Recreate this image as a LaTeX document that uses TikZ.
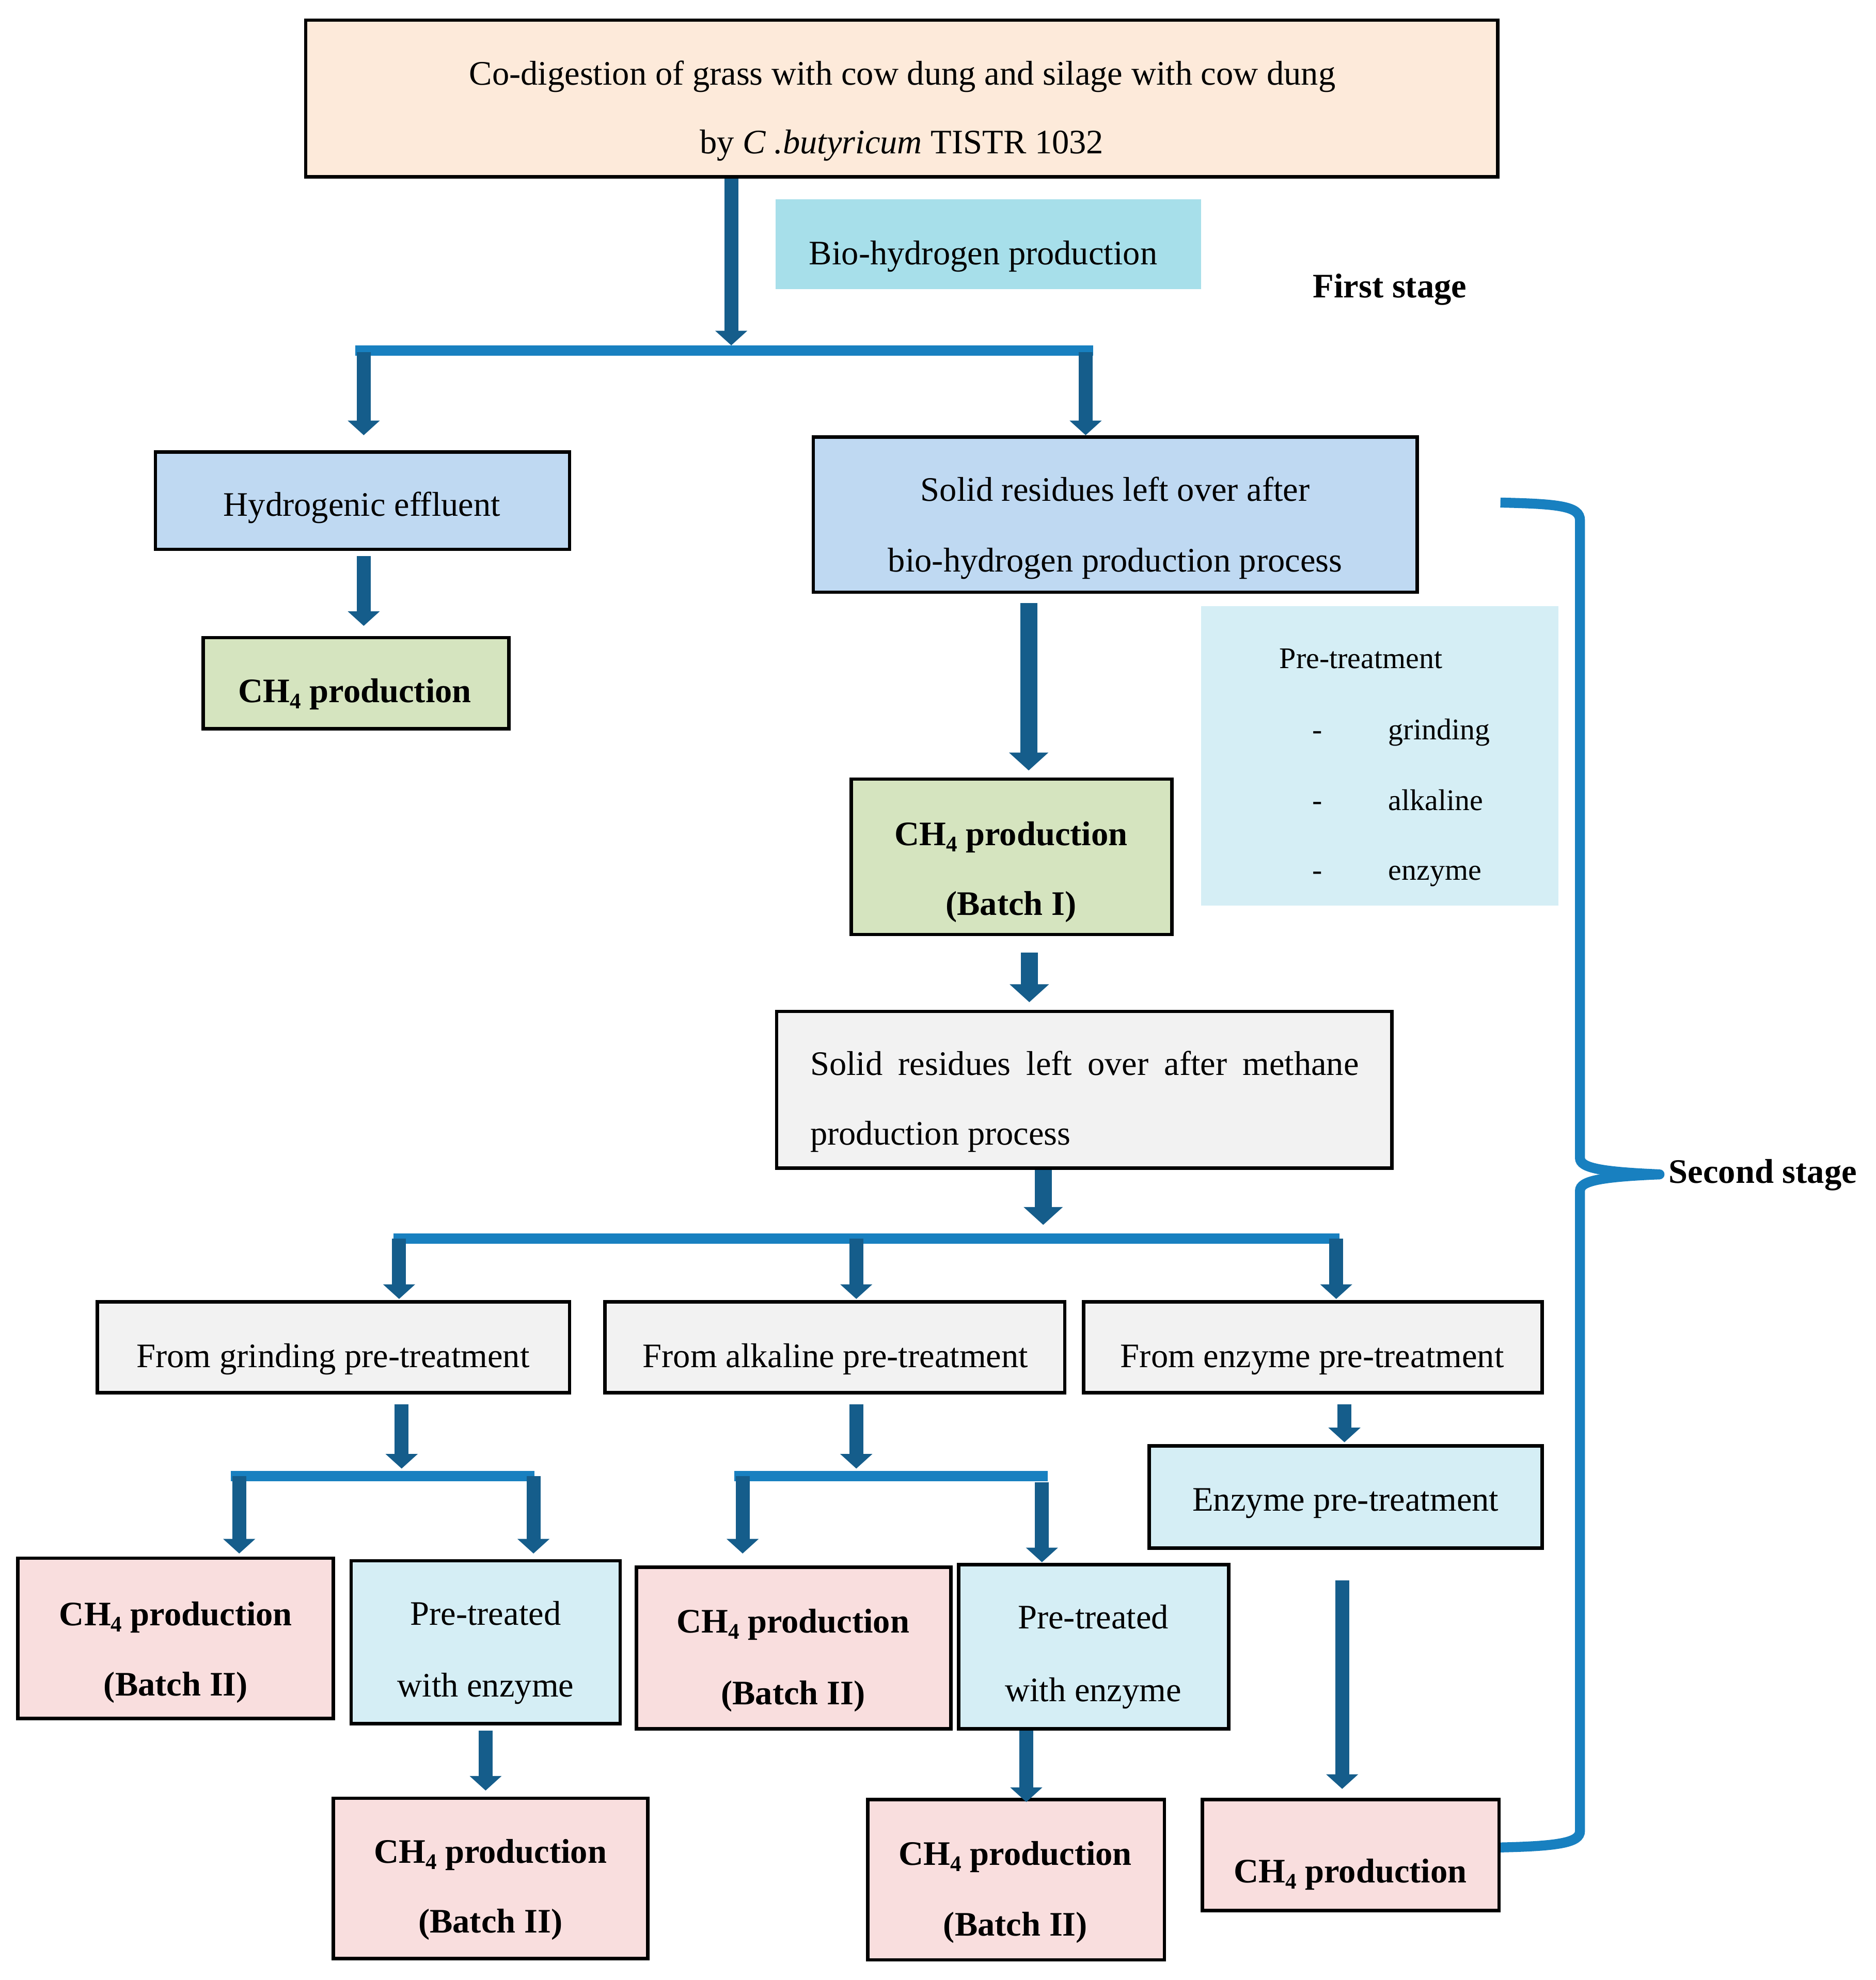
\documentclass[tikz,border=0pt]{standalone}
\usepackage{fontspec}
\setmainfont{Liberation Serif}
\usetikzlibrary{arrows.meta}
\definecolor{peach}{HTML}{FDEADA}
\definecolor{bioc}{HTML}{A7DFEA}
\definecolor{lblue}{HTML}{BFD9F2}
\definecolor{lgreen}{HTML}{D5E4BF}
\definecolor{pale}{HTML}{D5EEF5}
\definecolor{lgray}{HTML}{F2F2F2}
\definecolor{lpink}{HTML}{F9DEDE}
\definecolor{arrowblue}{HTML}{155D8B}
\definecolor{barblue}{HTML}{1880C0}
\tikzset{
  boxst/.style={draw=black, line width=1.35pt, inner sep=0pt},
  flatbox/.style={draw=none, inner sep=0pt},
  arr/.style={draw=arrowblue, line width=5.5pt, -{Triangle[length=0pt 1.05,width=0pt 2.25]}},
  arrw/.style={arr, line width=6.75pt},
  barst/.style={draw=barblue, line width=4.1pt},
  brk/.style={draw=barblue, line width=3.95pt},
  txt/.style={inner sep=0pt, yshift=-1.2pt, font=\fontsize{13.6}{16}\selectfont, text height=9.5pt, text depth=3pt},
  txtb/.style={txt, font=\fontsize{13.6}{16}\selectfont\bfseries},
  txts/.style={inner sep=0pt, yshift=-1.2pt, font=\fontsize{11.85}{14}\selectfont, text height=8.3pt, text depth=2.6pt, anchor=west},
  sub/.style={},
}
\newcommand\mkbox[7][boxst]{\node[#1, fill=#7, minimum width={(#5-#3)*0.5pt}, minimum height={(#6-#4)*0.5pt}] (#2) at ({(#3+#5)/2},{(#4+#6)/2}) {};}
\newcommand\chf{CH\raisebox{-0.18em}{\fontsize{8.8}{10}\selectfont 4}}
\begin{document}
\begin{tikzpicture}[x=0.5pt,y=-0.5pt]
\useasboundingbox (0,0) rectangle (1485,1568);

% bracket (second stage)
\draw[brk] (1188,398) .. controls (1235,399) and (1251,401) .. (1251,412) -- (1251,917)
  .. controls (1251,925) and (1268,928) .. (1314,930);
\draw[brk] (1314,930) .. controls (1268,932) and (1251,935) .. (1251,943) -- (1251,1450)
  .. controls (1251,1459) and (1235,1462) .. (1188,1463);
\fill[barblue] (1314,930) circle (1.97pt);

% boxes
\mkbox{top}{242}{16}{1186}{140}{peach}
\mkbox[flatbox]{bio}{614}{158}{951}{229}{bioc}
\mkbox{hyd}{123}{358}{451}{435}{lblue}
\mkbox{solid}{644}{346}{1122}{469}{lblue}
\mkbox{ch4a}{161}{505}{403}{577}{lgreen}
\mkbox{b1}{674}{617}{928}{740}{lgreen}
\mkbox[flatbox]{pre}{951}{480}{1234}{717}{pale}
\mkbox{meth}{615}{801}{1102}{925}{lgray}
\mkbox{fg}{77}{1031}{451}{1103}{lgray}
\mkbox{fa}{479}{1031}{843}{1103}{lgray}
\mkbox{fe}{858}{1031}{1221}{1103}{lgray}
\mkbox{enz}{910}{1145}{1221}{1226}{pale}
\mkbox{c2a}{14}{1234}{264}{1361}{lpink}
\mkbox{p1}{278}{1236}{491}{1365}{pale}
\mkbox{c2b}{504}{1241}{753}{1369}{lpink}
\mkbox{p2}{759}{1239}{973}{1369}{pale}
\mkbox{c3a}{264}{1424}{513}{1551}{lpink}
\mkbox{c3b}{687}{1425}{922}{1552}{lpink}
\mkbox{c3c}{952}{1425}{1187}{1513}{lpink}

% junction coordinates
\coordinate (j1) at (579,277.5);
\coordinate (b1l) at (281.5,277.5);
\coordinate (b1r) at (865.7,277.5);
\coordinate (j2) at (288,279);
\coordinate (j3) at (859.6,279);
\coordinate (x5) at (814.5,0);
\coordinate (x6) at (815,0);
\coordinate (j7) at (826,981);
\coordinate (b2l) at (311.6,981);
\coordinate (b2r) at (1060.7,981);
\coordinate (j8) at (316,981);
\coordinate (j9) at (678,981);
\coordinate (j10) at (1058,981);
\coordinate (j11) at (318,1169);
\coordinate (j12) at (678,1169);
\coordinate (x13) at (1064.5,0);
\coordinate (b3l) at (182.8,1169);
\coordinate (b3r) at (423.3,1169);
\coordinate (b4l) at (581.5,1169);
\coordinate (b4r) at (829.6,1169);
\coordinate (j14) at (189.4,1169);
\coordinate (j15) at (422.4,1169);
\coordinate (j16) at (588,1169);
\coordinate (j17) at (825,1174);
\coordinate (x18) at (384.5,0);
\coordinate (x19) at (812.6,0);
\coordinate (x20) at (1062.7,0);

% bars
\draw[barst] (b1l) -- (b1r);
\draw[barst] (b2l) -- (b2r);
\draw[barst] (b3l) -- (b3r);
\draw[barst] (b4l) -- (b4r);

% arrows
\draw[arr, shorten >=2pt] (j1 |- top.south) -- (j1);
\draw[arr, shorten >=6pt] (j2) -- (j2 |- hyd.north);
\draw[arr] (j3) -- (j3 |- solid.north);
\draw[arr, shorten <=2pt, shorten >=4pt] (j2 |- hyd.south) -- (j2 |- ch4a.north);
\draw[arrw, shorten <=3.5pt, shorten >=2.75pt] (x5 |- solid.south) -- (x5 |- b1.north);
\draw[arrw, shorten <=6.5pt, shorten >=3pt] (x6 |- b1.south) -- (x6 |- meth.north);
\draw[arrw, shorten >=5.5pt] (j7 |- meth.south) -- (j7);
\draw[arr, shorten >=0.5pt] (j8) -- (j8 |- fg.north);
\draw[arr, shorten >=0.5pt] (j9) -- (j9 |- fa.north);
\draw[arr, shorten >=0.5pt] (j10) -- (j10 |- fe.north);
\draw[arr, shorten <=3.8pt, shorten >=3pt] (j11 |- fg.south) -- (j11);
\draw[arr, shorten <=3.8pt, shorten >=3pt] (j12 |- fa.south) -- (j12);
\draw[arr, shorten <=3.8pt, shorten >=0.75pt] (x13 |- fe.south) -- (x13 |- enz.north);
\draw[arr, shorten >=1.2pt] (j14) -- (j14 |- c2a.north);
\draw[arr, shorten >=2.2pt] (j15) -- (j15 |- p1.north);
\draw[arr, shorten >=4.7pt] (j16) -- (j16 |- c2b.north);
\draw[arr, shorten >=0.25pt] (j17) -- (j17 |- p2.north);
\draw[arr, shorten <=2pt, shorten >=2.35pt] (x18 |- p1.south) -- (x18 |- c3a.north);
\draw[arr, shorten >=-1.7pt] (x19 |- p2.south) -- (x19 |- c3b.north);
\draw[arr, shorten <=12pt, shorten >=3.5pt] (x20 |- enz.south) -- (x20 |- c3c.north);

% texts
\node[txt] (t1) at (714.5,58.2) {Co-digestion of grass with cow dung and silage with cow dung};
\node[txt] (t2) at (714,112.6) {by \textit{C .butyricum} TISTR 1032};
\node[txt] (t3) at (778.5,200.8) {Bio-hydrogen production};
\node[txtb] (t4) at (1100.4,227) {First stage};
\node[txt] (t5) at (286.6,399.8) {Hydrogenic effluent};
\node[txtb] (t6) at (281,547.3) {\chf{} production};
\node[txt] (t7) at (883,388) {Solid residues left over after};
\node[txt] (t8) at (883,444) {bio-hydrogen production process};
\node[txtb] (t9) at (800.6,660.7) {\chf{} production};
\node[txtb] (t10) at (800.5,716) {(Batch I)};
\node[txts] (t11) at (1012.7,521) {Pre-treatment};
\node[txts] (t12) at (1038.7,577.6) {-};
\node[txts] (t13) at (1099,577.6) {grinding};
\node[txts] (t14) at (1038.7,633.5) {-};
\node[txts] (t15) at (1099,633.5) {alkaline};
\node[txts] (t16) at (1038.7,689) {-};
\node[txts] (t17) at (1099,689) {enzyme};
\node[txt, anchor=west] (t18) at (641.2,842.5) {\makebox[217.2pt][s]{Solid residues left over after methane}};
\node[txt, anchor=west] (t19) at (641.2,897.6) {production process};
\node[txt] (t20) at (263.7,1074) {From grinding pre-treatment};
\node[txt] (t21) at (661.5,1074) {From alkaline pre-treatment};
\node[txt] (t22) at (1039,1074) {From enzyme pre-treatment};
\node[txt] (t23) at (1065.4,1187.5) {Enzyme pre-treatment};
\node[txtb] (t24) at (139.2,1278.5) {\chf{} production};
\node[txtb] (t25) at (139.2,1333.8) {(Batch II)};
\node[txt] (t26) at (384.5,1277.8) {Pre-treated};
\node[txt] (t27) at (384.5,1335) {with enzyme};
\node[txtb] (t28) at (627.9,1284.2) {\chf{} production};
\node[txtb] (t29) at (627.9,1340.8) {(Batch II)};
\node[txt] (t30) at (865.6,1280.8) {Pre-treated};
\node[txt] (t31) at (865.6,1338.4) {with enzyme};
\node[txtb] (t32) at (388.3,1466.5) {\chf{} production};
\node[txtb] (t33) at (388.3,1521.8) {(Batch II)};
\node[txtb] (t34) at (804,1468) {\chf{} production};
\node[txtb] (t35) at (804,1524) {(Batch II)};
\node[txtb] (t36) at (1069.2,1482) {\chf{} production};
\node[txtb, anchor=west] (t37) at (1321,928) {Second stage};
\end{tikzpicture}
\end{document}
